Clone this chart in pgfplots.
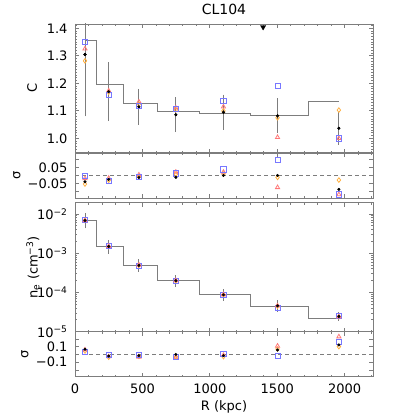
\documentclass[border=0pt]{standalone}
\usepackage{fontspec}
\setmainfont{DejaVu Sans}
\usepackage{pgfplots}
\pgfplotsset{compat=1.18}

\definecolor{framegray}{RGB}{125,125,125}
\definecolor{ptblue}{RGB}{120,120,255}
\definecolor{ptred}{RGB}{255,120,120}
\definecolor{ptorange}{RGB}{255,176,64}

\pgfplotsset{
  panel/.style={
    scale only axis, width=298pt, xmin=0, xmax=2210,
    axis line style={framegray, line width=0.9pt},
    every tick/.style={framegray, line width=0.8pt},
    major tick length=4pt, minor tick length=2pt,
    tick align=inside,
    xtick={0,500,1000,1500,2000}, minor xtick={0,100,...,2200},
    xticklabels={},
    tick label style={font=\fontsize{13}{15}\selectfont},
    label style={font=\fontsize{13}{15}\selectfont},
    yticklabel style={xshift=-4pt},
    xticklabel style={yshift=-4pt},
  },
  ylab/.style={every axis y label/.append style={at={(axis description cs:#1,0.5)}, anchor=center}},
  err/.style={error bars/.cd, y dir=both, y explicit,
    error bar style={framegray, line width=0.9pt},
    error mark options={framegray, mark size=2pt, line width=0.9pt}},
  pblue/.style={only marks, mark=square, mark size=2.6pt, ptblue, mark options={line width=0.8pt}},
  pred/.style={only marks, mark=triangle, mark size=2.4pt, ptred, mark options={line width=0.8pt}},
  porange/.style={only marks, mark=diamond, mark size=2.3pt, ptorange, mark options={line width=0.8pt}},
  pblack/.style={only marks, mark=*, mark size=1.3pt, black},
  step/.style={framegray, line width=0.9pt},
}

\begin{document}
\begin{tikzpicture}
\useasboundingbox (0pt,0pt) rectangle (415pt,415pt);

% C
\begin{axis}[panel, at={(75pt,262.3pt)}, anchor=south west, height=128.7pt,
  ymin=0.948, ymax=1.416,
  ytick={1.0,1.1,1.2,1.3,1.4}, yticklabels={1.0,1.1,1.2,1.3,1.4},
  minor ytick={0.95,0.96,...,1.41},
  ylabel={C}, ylab=-0.144,
  title={CL104}, title style={font=\fontsize{14}{16}\selectfont}]
\addplot[step] coordinates {(74,1.357) (162,1.357) (162,1.196) (362,1.196) (362,1.128) (611,1.128) (611,1.099) (925,1.099) (925,1.091) (1302,1.091) (1302,1.084) (1730,1.084) (1730,1.135) (1957,1.135)};
\addplot[pblack, err] coordinates {(74,1.305) +- (0,0.218) (250,1.170) +- (0,0.100) (474,1.115) +- (0,0.058) (748,1.086) +- (0,0.056) (1101,1.095) +- (0,0.057) (1502,1.082) +- (0,0.056) (1957,1.037) +- (0,0.052)};
\addplot[porange] coordinates {(74,1.282) (250,1.168) (474,1.125) (748,1.104) (1101,1.100) (1502,1.075) (1957,1.103)};
\addplot[pred] coordinates {(74,1.326) (250,1.173) (474,1.133) (748,1.111) (1101,1.115) (1502,1.004) (1957,1.000)};
\addplot[pblue] coordinates {(74,1.350) (250,1.157) (474,1.117) (748,1.108) (1101,1.136) (1502,1.190) (1957,1.000)};
\addplot[pblack] coordinates {(74,1.305) (250,1.170) (474,1.115) (748,1.086) (1101,1.095) (1502,1.082) (1957,1.037)};
\addplot[only marks, mark=triangle*, mark size=3pt, black, mark options={rotate=180}] coordinates {(1395,1.405)};
\end{axis}

% sigma C
\begin{axis}[panel, at={(75pt,216.7pt)}, anchor=south west, height=45.3pt,
  ymin=-0.143, ymax=0.14,
  ytick={-0.1,-0.05,0,0.05,0.1}, yticklabels={,−0.05,,0.05,},
  ylabel={σ}, ylab=-0.195]
\addplot[framegray, line width=0.9pt, dash pattern=on 4pt off 3pt] coordinates {(0,0) (2210,0)};
\addplot[porange] coordinates {(74,-0.054) (250,-0.030) (474,-0.008) (748,0.008) (1101,0.008) (1502,-0.0125) (1957,-0.029)};
\addplot[pred] coordinates {(74,-0.019) (250,-0.017) (474,0.004) (748,0.021) (1101,0.021) (1502,-0.075) (1957,-0.119)};
\addplot[pblue] coordinates {(74,-0.004) (250,-0.033) (474,-0.008) (748,0.0125) (1101,0.0375) (1502,0.096) (1957,-0.119)};
\addplot[pblack] coordinates {(74,-0.040) (250,-0.025) (474,-0.013) (748,-0.0125) (1101,0) (1502,0) (1957,-0.0875)};
\end{axis}

% n_e
\begin{axis}[panel, at={(75pt,83.3pt)}, anchor=south west, height=129pt,
  ymode=log, ymin=1e-5, ymax=0.0195,
  ytick={1e-5,1e-4,1e-3,1e-2},
  yticklabels={10\textsuperscript{−5},10\textsuperscript{−4},10\textsuperscript{−3},10\textsuperscript{−2}},
  minor ytick={2e-5,3e-5,4e-5,5e-5,6e-5,7e-5,8e-5,9e-5,2e-4,3e-4,4e-4,5e-4,6e-4,7e-4,8e-4,9e-4,2e-3,3e-3,4e-3,5e-3,6e-3,7e-3,8e-3,9e-3},
  ylabel={n\textsubscript{e} (cm\textsuperscript{−3})}, ylab=-0.141]
\addplot[step] coordinates {(74,6.87e-3) (162,6.87e-3) (162,1.49e-3) (362,1.49e-3) (362,4.89e-4) (611,4.89e-4) (611,2.0e-4) (925,2.0e-4) (925,8.9e-5) (1302,8.9e-5) (1302,4.5e-5) (1730,4.5e-5) (1730,2.14e-5) (1957,2.14e-5)};
\addplot[pblack, err] coordinates {(74,6.87e-3) += (0,2.73e-3) -= (0,2.04e-3) (250,1.49e-3) += (0,0.40e-3) -= (0,0.38e-3) (474,4.89e-4) += (0,1.31e-4) -= (0,1.09e-4) (748,2.0e-4) += (0,0.47e-4) -= (0,0.45e-4) (1101,8.7e-5) += (0,2.1e-5) -= (0,1.8e-5) (1502,4.57e-5) += (0,1.13e-5) -= (0,0.94e-5) (1957,2.45e-5) += (0,0.41e-5) -= (0,0.31e-5)};
\addplot[porange] coordinates {(74,6.9e-3) (250,1.48e-3) (474,4.95e-4) (748,1.98e-4) (1101,8.8e-5) (1502,4.5e-5) (1957,2.4e-5)};
\addplot[pblue] coordinates {(74,7.0e-3) (250,1.52e-3) (474,4.85e-4) (748,1.95e-4) (1101,8.6e-5) (1502,4.1e-5) (1957,2.5e-5)};
\addplot[pred] coordinates {(74,6.8e-3) (250,1.5e-3) (474,5.0e-4) (748,2.02e-4) (1101,8.8e-5) (1502,4.6e-5) (1957,2.4e-5)};
\addplot[pblack] coordinates {(74,6.87e-3) (250,1.49e-3) (474,4.89e-4) (748,2.0e-4) (1101,8.7e-5) (1502,4.57e-5) (1957,2.45e-5)};
\end{axis}

% sigma n_e
\begin{axis}[panel, at={(75pt,38.3pt)}, anchor=south west, height=45pt,
  ymin=-0.287, ymax=0.294,
  ytick={-0.2,-0.1,0,0.1,0.2}, yticklabels={,−0.1,,0.1,},
  xticklabels={0,500,1000,1500,2000},
  xlabel={R (kpc)},
  ylabel={σ}, ylab=-0.168]
\addplot[framegray, line width=0.9pt, dash pattern=on 4pt off 3pt] coordinates {(0,0) (2210,0)};
\addplot[porange] coordinates {(74,0.045) (250,-0.035) (474,-0.025) (748,-0.030) (1101,-0.028) (1502,0.071) (1957,0.101)};
\addplot[pred] coordinates {(74,0.060) (250,-0.028) (474,-0.032) (748,-0.050) (1101,-0.010) (1502,0.110) (1957,0.230)};
\addplot[pblue] coordinates {(74,0.036) (250,-0.006) (474,-0.006) (748,-0.028) (1101,0.010) (1502,-0.020) (1957,0.165)};
\addplot[pblack] coordinates {(74,0.067) (250,-0.020) (474,-0.015) (748,0.000) (1101,-0.015) (1502,0.058) (1957,0.123)};
\end{axis}
\end{tikzpicture}
\end{document}
